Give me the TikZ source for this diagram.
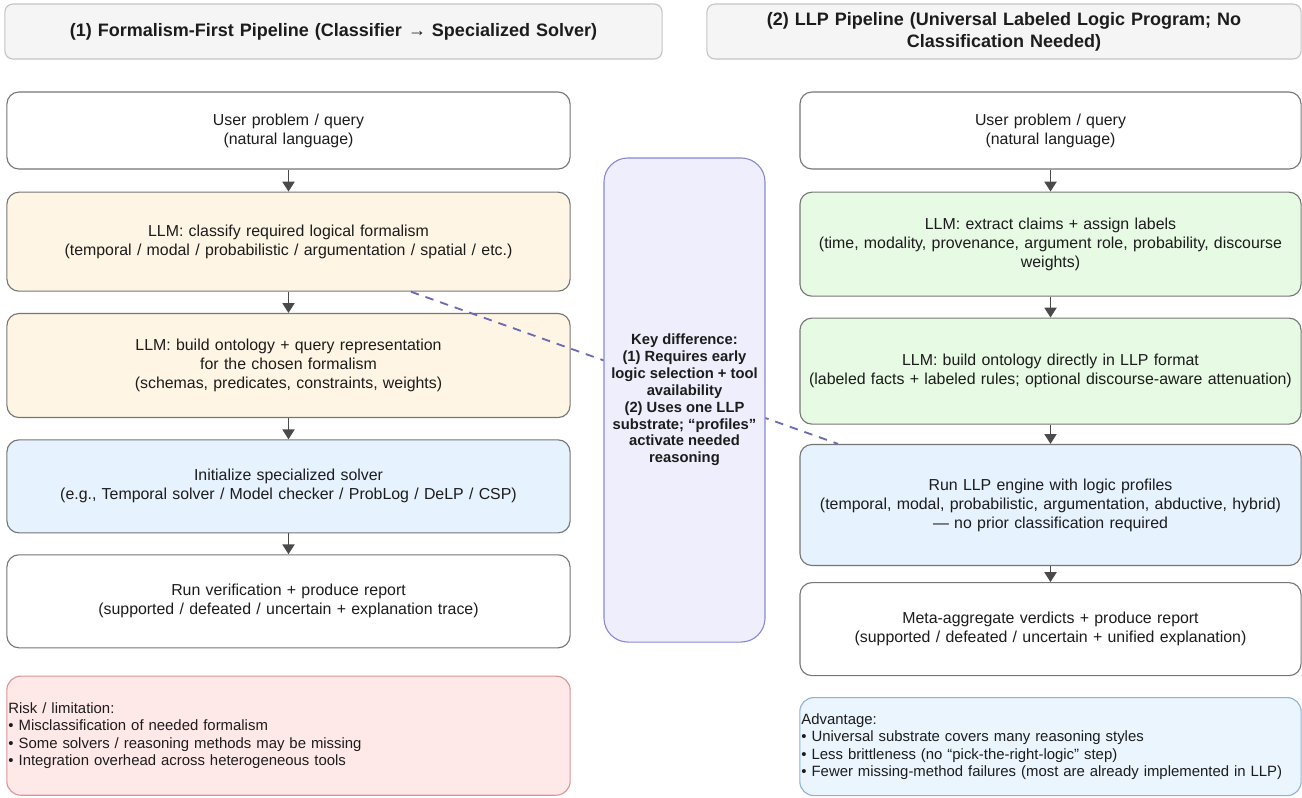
\documentclass[tikz,border=0pt]{standalone}
\usepackage{fontspec}
\setmainfont{Liberation Sans}
\usepackage{tikz}
\usetikzlibrary{arrows.meta, positioning, calc}
\definecolor{boxline}{HTML}{767676}
\definecolor{hdrfill}{HTML}{F5F5F5}
\definecolor{hdrline}{HTML}{C4C4C4}
\definecolor{creamfill}{HTML}{FFF5E4}
\definecolor{greenfill}{HTML}{E7FAE4}
\definecolor{bluefill}{HTML}{E6F2FD}
\definecolor{keyfill}{HTML}{EEEEFC}
\definecolor{keyline}{HTML}{8A8AD0}
\definecolor{riskfill}{HTML}{FFE8E8}
\definecolor{riskline}{HTML}{D99696}
\definecolor{advfill}{HTML}{EAF5FD}
\definecolor{advline}{HTML}{90B3D4}
\definecolor{linkcol}{HTML}{6B6BB5}
\definecolor{flowcol}{HTML}{4A4A4A}
\definecolor{textcol}{HTML}{1C1C1C}

\begin{document}
\begin{tikzpicture}[x=0.025cm, y=-0.025cm,
      stage/.style={draw=boxline, line width=0.8pt, rounded corners=0.3cm,
                    fill=white, align=center, inner sep=0pt, text=textcol,
                    font=\fontsize{11.3}{13.5}\selectfont},
      lstage/.style={stage, text width=14.075cm, minimum height=#1},
      rstage/.style={stage, text width=12.525cm, minimum height=#1},
      hdr/.style={draw=hdrline, line width=0.8pt, fill=hdrfill,
                  rounded corners=0.2cm, align=center, inner sep=0pt,
                  minimum height=1.375cm, text=textcol,
                  font=\fontsize{12.8}{15.6}\selectfont\bfseries},
      note/.style={line width=0.8pt, rounded corners=0.35cm, align=left,
                   inner xsep=0.04cm, inner ysep=0pt, text=textcol,
                   font=\fontsize{10.6}{12.3}\selectfont},
      flow/.style={->, draw=flowcol, fill=flowcol, line width=1.4pt},
      >={Triangle[width=8.5pt,length=7pt]}]
    \useasboundingbox (0,0) rectangle (1302,797);

    % headers
    \node[hdr, text width=16.425cm] (H1) at (333.5,31.5)
          {(1) Formalism-First Pipeline (Classifier → Specialized Solver)};
    \node[hdr, text width=14.85cm] (H2) at (1004,31.5)
          {(2) LLP Pipeline (Universal Labeled Logic Program; No\\Classification Needed)};

    % left column
    \node[lstage=1.925cm] (U1) at (288.5,130.5)
          {User problem / query\\(natural language)};
    \node[lstage=2.475cm, fill=creamfill, below=0.55cm of U1] (C1)
          {LLM: classify required logical formalism\\
           (temporal / modal / probabilistic / argumentation / spatial / etc.)};
    \node[lstage=2.6cm, fill=creamfill, below=0.53cm of C1] (B1)
          {LLM: build ontology + query representation\\for the chosen formalism\\
           (schemas, predicates, constraints, weights)};
    \node[lstage=2.325cm, fill=bluefill, below=0.53cm of B1] (I1)
          {Initialize specialized solver\\
           (e.g., Temporal solver / Model checker / ProbLog / DeLP / CSP)};
    \node[lstage=2.325cm, below=0.52cm of I1] (R1)
          {Run verification + produce report\\
           (supported / defeated / uncertain + explanation trace)};
    \node[note, draw=riskline, fill=riskfill, text width=14.0cm,
          minimum height=2.975cm, below=0.68cm of R1] (risk)
          {Risk / limitation:\\
           • Misclassification of needed formalism\\
           • Some solvers / reasoning methods may be missing\\
           • Integration overhead across heterogeneous tools};

    % right column
    \node[rstage=1.925cm] (U2) at (1050.5,130.5)
          {User problem / query\\(natural language)};
    \node[rstage=2.6cm, fill=greenfill, below=0.55cm of U2] (E2)
          {LLM: extract claims + assign labels\\
           (time, modality, provenance, argument role, probability, discourse\\
           weights)};
    \node[rstage=2.65cm, fill=greenfill, below=0.52cm of E2] (B2)
          {LLM: build ontology directly in LLP format\\
           (labeled facts + labeled rules; optional discourse-aware attenuation)};
    \node[rstage=3.025cm, fill=bluefill, below=0.48cm of B2] (L2)
          {Run LLP engine with logic profiles\\
           (temporal, modal, probabilistic, argumentation, abductive, hybrid)\\
           — no prior classification required};
    \node[rstage=2.325cm, below=0.4cm of L2] (M2)
          {Meta-aggregate verdicts + produce report\\
           (supported / defeated / uncertain + unified explanation)};
    \node[note, draw=advline, fill=advfill, text width=12.45cm,
          minimum height=2.45cm, below=0.52cm of M2] (adv)
          {Advantage:\\
           • Universal substrate covers many reasoning styles\\
           • Less brittleness (no “pick-the-right-logic” step)\\
           • Fewer missing-method failures (most are already implemented in LLP)};

    \foreach \a/\b in {U1/C1, C1/B1, B1/I1, I1/R1, U2/E2, E2/B2, B2/L2, L2/M2}
      \draw[flow] (\a.south) -- (\b.north);

    % link behind the key box
    \draw[linkcol, line width=1.3pt, dash pattern=on 6pt off 5pt]
      ([xshift=3.06cm]C1.south) -- ([xshift=-5.31cm]L2.north);

    \node[draw=keyline, line width=0.8pt, fill=keyfill, rounded corners=0.6cm,
          minimum width=4.025cm, minimum height=12.1cm, align=center,
          text=textcol, font=\fontsize{10.5}{12}\selectfont\bfseries]
          (key) at (684.5,400)
          {Key difference:\\(1) Requires early\\logic selection + tool\\availability\\
           (2) Uses one LLP\\substrate; “profiles”\\activate needed\\reasoning};
  \end{tikzpicture}
\end{document}
